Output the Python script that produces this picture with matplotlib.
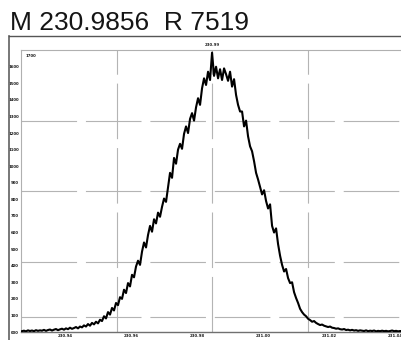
import numpy as np
import matplotlib.pyplot as plt
from matplotlib.lines import Line2D

# Peak header
peak_mass = "230.9856"
resolution = "7519"

# Sampling of the spectrum (m/z of first point and spacing)
mz_start = 230.9270
mz_step = 0.000606

# Intensities, one per sample
intensity = [
    0.05, 0.08, 0.04, 0.10, 0.06, 0.09, 0.05, 0.11, 0.07, 0.10,
    0.08, 0.13, 0.07, 0.12, 0.15, 0.09, 0.14, 0.18, 0.11, 0.16,
    0.20, 0.14, 0.22, 0.17, 0.26, 0.19, 0.24, 0.30, 0.22, 0.33,
    0.28, 0.40, 0.33, 0.48, 0.38, 0.55, 0.46, 0.62, 0.52, 0.74,
    0.66, 0.95, 0.82, 1.20, 1.05, 1.45, 1.30, 1.75, 1.62, 2.10,
    2.00, 2.55, 2.35, 2.95, 2.75, 3.45, 3.30, 3.95, 4.30, 4.05,
    4.85, 5.40, 5.10, 5.85, 6.40, 6.05, 6.80, 6.55, 7.20, 6.95,
    7.55, 8.05, 7.85, 8.75, 9.60, 9.30, 10.50, 10.15, 11.00, 11.35,
    11.05, 11.95, 12.40, 12.00, 12.85, 13.20, 12.75, 13.55, 14.10, 13.70,
    14.70, 15.30, 14.90, 15.70, 15.20, 16.85, 15.45, 16.00, 15.30, 15.85,
    15.20, 15.90, 15.55, 15.15, 15.70, 14.80, 15.25, 14.30, 13.70, 13.30,
    13.30, 12.40, 12.75, 11.80, 11.20, 10.90, 10.30, 9.60, 9.20, 8.75,
    8.30, 8.55, 7.90, 7.45, 7.70, 6.40, 6.00, 6.25, 5.30, 4.60,
    4.05, 3.65, 3.80, 3.25, 2.95, 3.00, 2.40, 2.05, 1.75, 1.40,
    1.20, 1.05, 0.95, 0.80, 0.72, 0.62, 0.66, 0.55, 0.48, 0.42,
    0.45, 0.38, 0.34, 0.30, 0.33, 0.26, 0.24, 0.20, 0.22, 0.17,
    0.15, 0.18, 0.12, 0.14, 0.10, 0.13, 0.09, 0.11, 0.07, 0.10,
    0.08, 0.06, 0.10, 0.05, 0.08, 0.06, 0.09, 0.04, 0.07, 0.05,
    0.08, 0.05, 0.07, 0.04, 0.06, 0.09, 0.05, 0.07, 0.04, 0.06,
    0.05,
]

x_ticks = [230.94, 230.96, 230.98, 231.00, 231.02, 231.04]
x_labels = ["230.94", "230.96", "230.98", "231.00", "231.02", "231.04"]
y_ticks = list(range(0, 17))
y_labels = ["%d00" % v for v in y_ticks]

xlo, xhi = 230.9267, 231.0427
ylo, yhi = 0, 17.0

mz = mz_start + mz_step * np.arange(len(intensity))

fig = plt.figure(figsize=(4.02, 3.40), dpi=100)
ax = fig.add_axes([0.0522, 0.0235, 0.9527, 0.829])

grid_kw = dict(color="#b4b4b4", lw=0.8, dashes=(50, 8), zorder=1)
for f in (0.25, 0.5, 0.75):
    ax.axvline(xlo + f * (xhi - xlo), **grid_kw)
    ax.axhline(ylo + f * (yhi - ylo), **grid_kw)
ax.axhline(ylo + 0.053 * (yhi - ylo), **grid_kw)

ax.plot(mz, intensity, color="black", lw=1.5, zorder=3)

ax.set_xlim(xlo, xhi)
ax.set_ylim(ylo, yhi)
ax.set_xticks(x_ticks)
ax.set_xticklabels(x_labels)
ax.set_yticks(y_ticks)
ax.set_yticklabels(y_labels)
ax.tick_params(length=0, labelsize=2.8, labelcolor="#1a1a1a", pad=1.5)
for lab in ax.get_xticklabels() + ax.get_yticklabels():
    lab.set_fontweight("bold")

for side in ("left", "top", "right"):
    ax.spines[side].set_color("#b0b0b0")
    ax.spines[side].set_linewidth(0.8)
ax.spines["bottom"].set_color("#707070")
ax.spines["bottom"].set_linewidth(1.0)

ax.text(0.012, 0.985, "1700", transform=ax.transAxes, fontsize=2.8,
        va="top", ha="left", color="#1a1a1a", fontweight="bold")
ax.text(0.5, 1.01, "230.99", transform=ax.transAxes, fontsize=2.8,
        va="bottom", ha="center", color="#1a1a1a", fontweight="bold")

# outer frame of the scanned panel
fig.add_artist(Line2D([9 / 402, 9 / 402], [0, 1 - 36 / 340],
                      color="#606060", lw=1.2, transform=fig.transFigure))
fig.add_artist(Line2D([9 / 402, 1], [1 - 36 / 340, 1 - 36 / 340],
                      color="#555555", lw=1.0, transform=fig.transFigure))

fig.text(10 / 402, 1 - 30 / 340, "M %s  R %s" % (peak_mass, resolution),
         fontsize=19, family="Liberation Sans", color="#151515",
         ha="left", va="baseline")

fig.savefig("out.png", dpi=100)
